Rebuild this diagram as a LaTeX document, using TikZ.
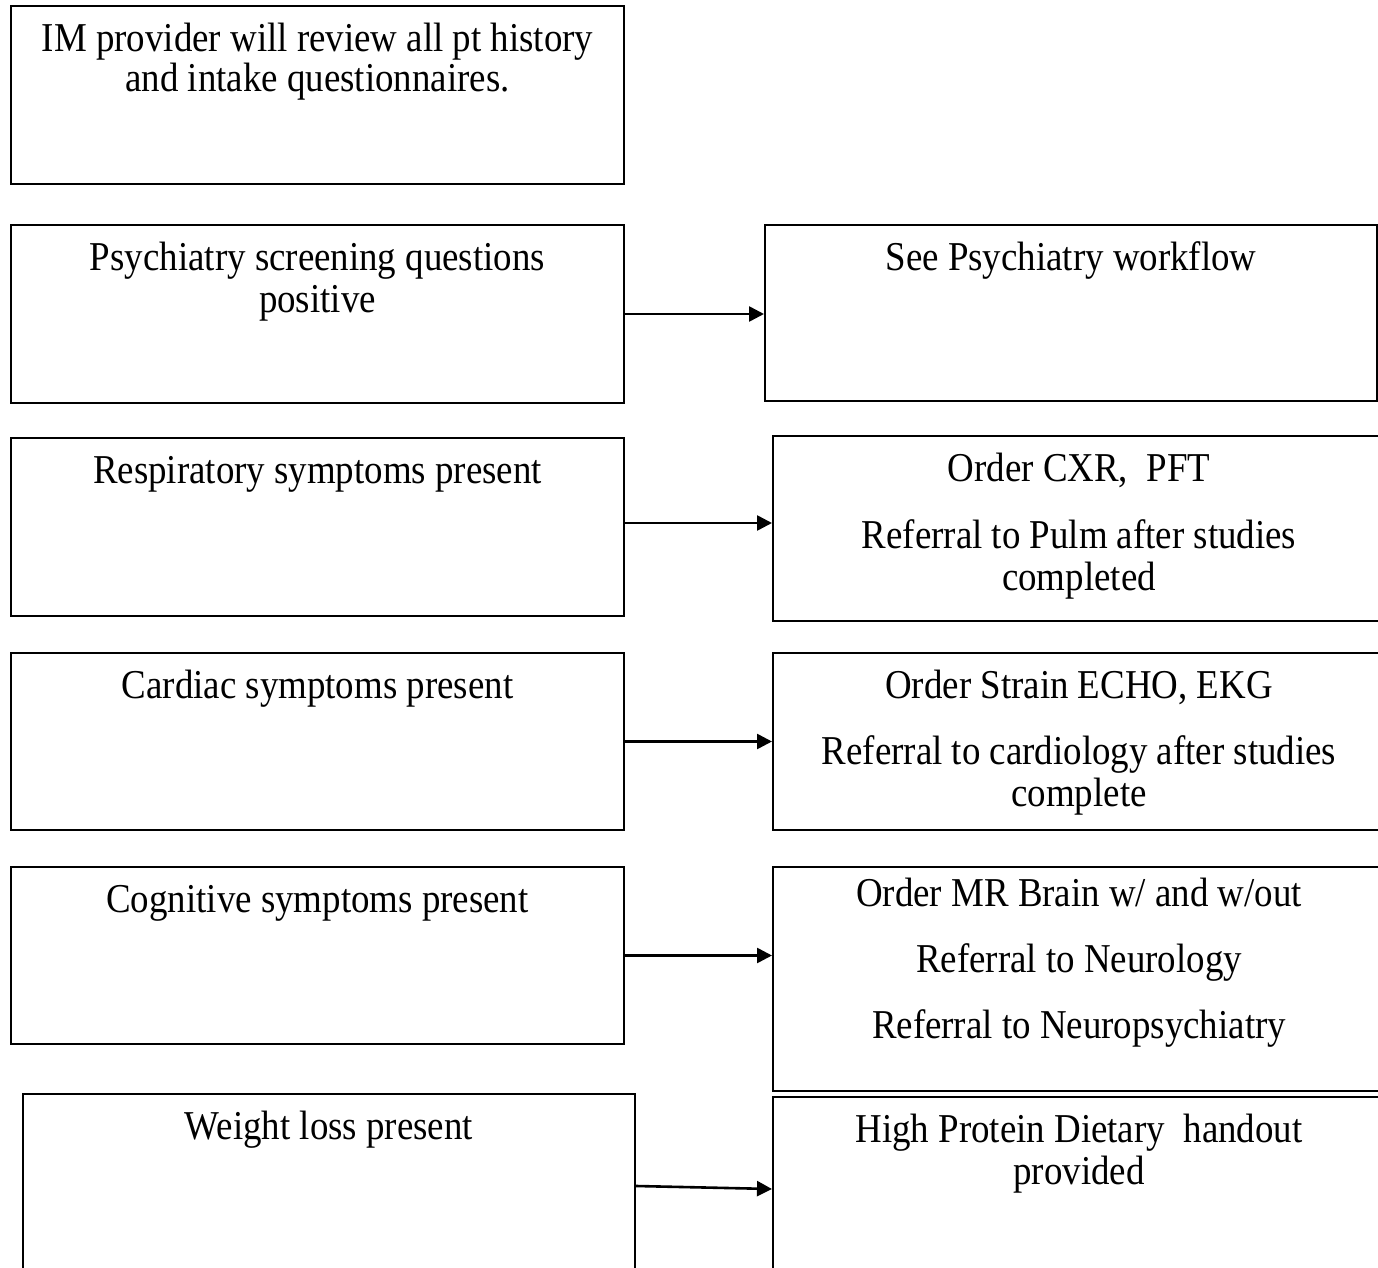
\documentclass[tikz,border=0pt]{standalone}
\usepackage{fontspec}
\setmainfont{Liberation Serif}[FakeStretch=0.9]
\usepackage{tikz}
\usetikzlibrary{arrows.meta, positioning}
\newcommand{\bodyfont}{\fontsize{20.5}{21}\selectfont}
\newcommand{\boxtext}[4][8pt]{\parbox[t][#3][t]{#2}{\centering\vspace*{#1}\strut #4}}

\begin{document}
\begin{tikzpicture}[
    x=0.5pt, y=-0.5pt,
    stepbox/.style={rectangle, draw=black, line width=1pt, anchor=north west, inner sep=0pt, font=\bodyfont},
    flowarrow/.style={line width=1.3pt, -{Triangle[length=7.5pt, width=7.5pt]}}
]
    \useasboundingbox (0,0) rectangle (1378,1268);
    \clip (0,0) rectangle (1378,1268);

    % left column
    \node[stepbox] (review) at (10,5) {\boxtext{306.5pt}{89pt}{IM provider will review all pt history\\[-1pt] and intake questionnaires.}};
    \node[stepbox] (psych) at (10,224) {\boxtext{306.5pt}{89pt}{Psychiatry screening questions\\ positive}};
    \node[stepbox] (resp) at (10,437) {\boxtext{306.5pt}{89pt}{Respiratory symptoms present}};
    \node[stepbox] (cardiac) at (10,652) {\boxtext{306.5pt}{88.5pt}{Cardiac symptoms present}};
    \node[stepbox] (cognitive) at (10,866) {\boxtext{306.5pt}{88.5pt}{Cognitive symptoms present}};
    \node[stepbox] (weight) at (22,1093) {\boxtext{306pt}{92pt}{Weight loss present}};

    % right column
    \node[stepbox] (psychflow) at (764,224) {\boxtext{306pt}{88pt}{See Psychiatry workflow}};
    \node[stepbox] (pulm) at (772,435) {\boxtext{306pt}{92.5pt}{Order CXR,\ \ PFT\\[12.5pt] Referral to Pulm after studies\\ completed}};
    \node[stepbox] (cardio) at (772,652) {\boxtext{306pt}{88.5pt}{Order Strain ECHO, EKG\\[12pt] Referral to cardiology after studies\\ complete}};
    \node[stepbox] (neuro) at (772,866) {\boxtext[5pt]{306pt}{112pt}{Order MR Brain w/ and w/out\\[12pt] Referral to Neurology\\[12pt] Referral to Neuropsychiatry}};
    \node[stepbox] (diet) at (772,1096) {\boxtext{306pt}{92pt}{High Protein Dietary\ \ handout\\ provided}};

    % arrows
    \draw[flowarrow] (psych.east) -- (psych.east -| psychflow.west);
    \draw[flowarrow] ([yshift=2pt]resp.east) -- ([yshift=2pt]resp.east -| pulm.west);
    \draw[flowarrow] (cardiac.east) -- (cardiac.east -| cardio.west);
    \draw[flowarrow] (cognitive.east) -- (cognitive.east -| neuro.west);
    \draw[flowarrow] (weight.east) -- (diet.west);
\end{tikzpicture}
\end{document}
